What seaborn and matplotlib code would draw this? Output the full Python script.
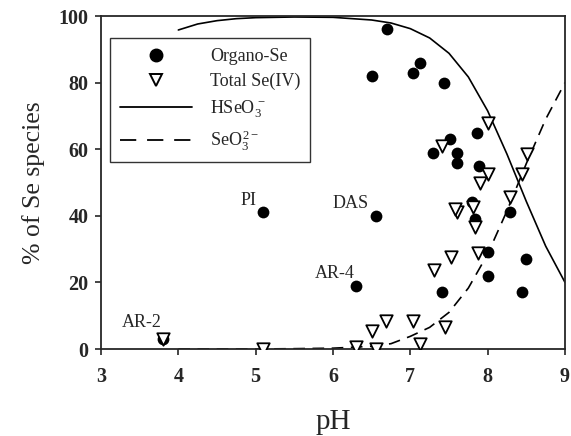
import matplotlib
matplotlib.use('Agg')
import matplotlib.pyplot as plt
import seaborn as sns
import pandas as pd
from matplotlib.lines import Line2D

# ---- data ----
organo_ph = [3.8, 5.1, 6.3, 6.55, 6.5, 6.7, 7.03, 7.13, 7.44, 7.29, 7.51, 7.60, 7.60,
             7.86, 7.89, 7.80, 7.83, 8.29, 8.0, 8.0, 8.49, 8.44, 7.41]
organo_pct = [3, 41, 19, 40, 82, 96, 83, 86, 80, 59, 63, 59, 56,
              65, 55, 44, 39, 41, 29, 22, 27, 17, 17]

total_ph = [3.8, 5.1, 6.3, 6.55, 6.5, 6.69, 7.03, 7.13, 7.45, 7.30, 7.52, 7.87, 7.60,
            7.58, 7.81, 7.84, 7.41, 8.0, 8.0, 7.90, 8.51, 8.44, 8.29]
total_pct = [3, 0, 0.7, 0, 5.5, 8.5, 8.5, 1.5, 6.7, 23.7, 27.7, 28.7, 41,
             42, 42.7, 36.7, 61, 67.8, 52.7, 49.7, 58.5, 52.7, 45.7]

curve_ph = [4, 4.25, 4.5, 4.75, 5, 5.5, 6, 6.5, 6.75, 7, 7.25, 7.5, 7.75, 8,
            8.25, 8.5, 8.75, 9]
hseo3_pct = [95.8, 97.6, 98.6, 99.2, 99.5, 99.7, 99.6, 98.8, 97.9, 96.2, 93.4, 88.8,
             81.7, 71.5, 58.5, 44.3, 30.9, 20]
seo3_pct = [0, 0, 0, 0, 0, 0.1, 0.25, 0.8, 1.6, 3.8, 6.5, 11, 18.3, 28.5,
            41.5, 55.7, 69, 80]

sample_names = ['AR-2', 'PI', 'AR-4', 'DAS']
sample_ph = [3.8, 5.1, 6.3, 6.55]
sample_pct = [3, 41, 19, 40]

x_ticks = [3, 4, 5, 6, 7, 8, 9]
y_ticks = [0, 20, 40, 60, 80, 100]

# ---- styling ----
sns.set_style('ticks')
plt.rcParams['font.family'] = ['Liberation Serif', 'DejaVu Serif']
plt.rcParams['mathtext.fontset'] = 'custom'
plt.rcParams['mathtext.rm'] = 'Liberation Serif'
plt.rcParams['mathtext.it'] = 'Liberation Serif:italic'
plt.rcParams['axes.linewidth'] = 1.3

fig = plt.figure(figsize=(5.71, 4.36), dpi=100)
ax = fig.add_axes([101/571, 1 - 349/436, 464/571, 333/436])

df_org = pd.DataFrame({'pH': organo_ph, 'pct': organo_pct})
df_tot = pd.DataFrame({'pH': total_ph, 'pct': total_pct})
df_cur = pd.DataFrame({'pH': curve_ph, 'h': hseo3_pct, 's': seo3_pct})

dash = (0, (7, 4.5))
sns.lineplot(data=df_cur, x='pH', y='h', ax=ax, color='black', linewidth=1.2,
             linestyle='-', zorder=2)
sns.lineplot(data=df_cur, x='pH', y='s', ax=ax, color='black', linewidth=1.2,
             linestyle=dash, zorder=2)
sns.scatterplot(data=df_org, x='pH', y='pct', ax=ax, color='black', marker='o',
                s=72, edgecolor='black', linewidth=0, zorder=3)
sns.scatterplot(data=df_tot, x='pH', y='pct', ax=ax, color='white', marker='v',
                s=80, edgecolor='black', linewidth=1.3, zorder=4)

for name, px, py in zip(sample_names, sample_ph, sample_pct):
    dy = 17 if name == 'AR-2' else 12
    dx = -1 if name in ('AR-2', 'AR-4') else -7
    ax.annotate(name, (px, py), xytext=(dx, dy), textcoords='offset pixels',
                ha='right', va='center', fontsize=13)

ax.set_xlim(3, 9)
ax.set_ylim(0, 100)
ax.set_xticks(x_ticks)
ax.set_yticks(y_ticks)
ax.tick_params(direction='out', length=4, width=1.2, labelsize=14.5)
ax.tick_params(axis='x', pad=9)
ax.tick_params(axis='y', pad=5)
for lab in ax.get_xticklabels() + ax.get_yticklabels():
    lab.set_fontweight('bold')
for sp in ax.spines.values():
    sp.set_visible(True)
    sp.set_linewidth(1.3)

ax.set_xlabel('pH', fontsize=21, labelpad=16)
ax.set_ylabel('% of Se species', fontsize=18.5, labelpad=10)

handles = [
    Line2D([], [], color='black', marker='o', linestyle='none', markersize=9),
    Line2D([], [], color='black', marker='v', markerfacecolor='white',
           markeredgewidth=1.4, linestyle='none', markersize=8.5),
    Line2D([], [], color='black', linewidth=1.3),
    Line2D([], [], color='black', linewidth=1.3, linestyle=(0, (9, 6))),
]
leg_labels = ['Organo-Se', 'Total Se(IV)', r'HSeO$_3^{\,-}$', r'SeO$_3^{\,2-}$']
leg = ax.legend(handles, leg_labels, loc='upper left', bbox_to_anchor=(0.019, 0.934),
                frameon=True, fancybox=False, edgecolor='black', fontsize=13,
                handlelength=4.0, labelspacing=0.45, borderpad=0.55, handletextpad=1.0,
                borderaxespad=0)
leg.get_frame().set_linewidth(1.0)

fig.savefig('out.png', dpi=100)
